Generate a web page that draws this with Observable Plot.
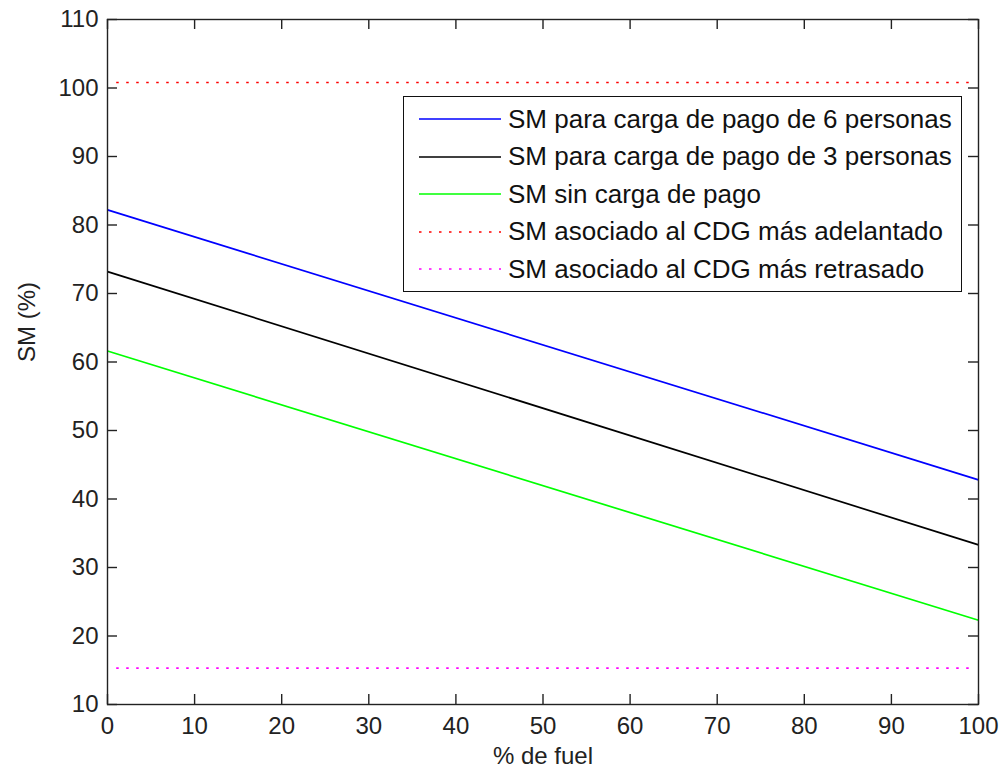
<!DOCTYPE html>
<html><head><meta charset="utf-8">
<script src="https://cdn.jsdelivr.net/npm/d3@7"></script>
<script src="https://cdn.jsdelivr.net/npm/@observablehq/plot@0.6"></script>
<style>
body{margin:0;background:#fff;}
#wrap{position:relative;width:1002px;height:773px;font-family:"Liberation Sans",Arial,sans-serif;}
#legend{position:absolute;left:403px;top:96px;width:557px;height:194px;border:1.5px solid #111;background:#fff;}
.row{position:absolute;left:0;height:36px;display:flex;align-items:center;font-size:26px;color:#111;white-space:nowrap;}
.row svg{margin-left:15px;margin-right:7px;}
</style></head>
<body><div id="wrap"></div>
<script>
// Data
const fuel = [0, 100];
const sm6 = [82.2, 42.8];
const sm3 = [73.2, 33.3];
const sm0 = [61.6, 22.3];
const limitFuel = [1, 99];
const smFwd = [100.8, 100.8];
const smAft = [15.3, 15.3];
const xTicks = [0, 10, 20, 30, 40, 50, 60, 70, 80, 90, 100];
const yTicks = [10, 20, 30, 40, 50, 60, 70, 80, 90, 100, 110];
const seriesNames = [
  "SM para carga de pago de 6 personas",
  "SM para carga de pago de 3 personas",
  "SM sin carga de pago",
  "SM asociado al CDG más adelantado",
  "SM asociado al CDG más retrasado"
];
const seriesColors = ["#0000ff", "#000000", "#00ff00", "#ff0000", "#ff00ff"];
const seriesDotted = [false, false, false, true, true];
const xLabel = "% de fuel";
const yLabel = "SM (%)";

const W = 1002, H = 773;
const mL = 107, mR = 24, mT = 19, mB = 69;
const innerW = W - mL - mR, innerH = H - mT - mB;
const tickLen = 10;
const dots = "2.5,7.5";
const font = "'Liberation Sans', Arial, sans-serif";

const toRows = (xs, ys) => xs.map((x, i) => ({x, y: ys[i]}));
const seriesData = [
  toRows(fuel, sm6), toRows(fuel, sm3), toRows(fuel, sm0),
  toRows(limitFuel, smFwd), toRows(limitFuel, smAft)
];

const lineMarks = seriesData.map((d, i) => Plot.line(d, {
  x: "x", y: "y", stroke: seriesColors[i], strokeWidth: 1.7,
  strokeDasharray: seriesDotted[i] ? dots : null,
  strokeLinecap: "butt"
}));

const chart = Plot.plot({
  width: W, height: H,
  marginLeft: mL, marginRight: mR, marginTop: mT, marginBottom: mB,
  style: {fontFamily: font, background: "#fff", color: "#222", overflow: "visible"},
  x: {domain: [0, 100]},
  y: {domain: [10, 110]},
  marks: [
    ...lineMarks,
    Plot.frame({stroke: "#222", strokeWidth: 1.4}),
    Plot.ruleX(xTicks, {x: d => d, insetTop: innerH - tickLen, stroke: "#222", strokeWidth: 1.4}),
    Plot.ruleX(xTicks, {x: d => d, insetBottom: innerH - tickLen, stroke: "#222", strokeWidth: 1.4}),
    Plot.ruleY(yTicks, {y: d => d, insetRight: innerW - tickLen, stroke: "#222", strokeWidth: 1.4}),
    Plot.ruleY(yTicks, {y: d => d, insetLeft: innerW - tickLen, stroke: "#222", strokeWidth: 1.4}),
    Plot.axisX({ticks: xTicks, tickSize: 0, tickPadding: 12, fontSize: 24, label: null, fill: "#222"}),
    Plot.axisY({ticks: yTicks, tickSize: 0, tickPadding: 9, fontSize: 24, label: null, fill: "#222"}),
    Plot.text([xLabel], {text: d => d, frameAnchor: "bottom", dy: 59, fontSize: 24, fill: "#222"}),
    Plot.text([yLabel], {text: d => d, frameAnchor: "left", dx: -80, rotate: -90, fontSize: 24, fill: "#222"})
  ]
});

const wrap = document.getElementById("wrap");
wrap.appendChild(chart);

// Legend overlay inside the axes
const legend = document.createElement("div");
legend.id = "legend";
seriesNames.forEach((name, i) => {
  const row = document.createElement("div");
  row.className = "row";
  row.style.top = (4 + i * 37.5) + "px";
  const sw = d3.create("svg").attr("width", 82).attr("height", 10);
  sw.append("line").attr("x1", 0).attr("x2", 82).attr("y1", 5).attr("y2", 5)
    .attr("stroke", seriesColors[i]).attr("stroke-width", 1.7)
    .attr("stroke-dasharray", seriesDotted[i] ? dots : null);
  row.appendChild(sw.node());
  const t = document.createElement("span");
  t.textContent = name;
  row.appendChild(t);
  legend.appendChild(row);
});
wrap.appendChild(legend);
</script>
</body></html>
